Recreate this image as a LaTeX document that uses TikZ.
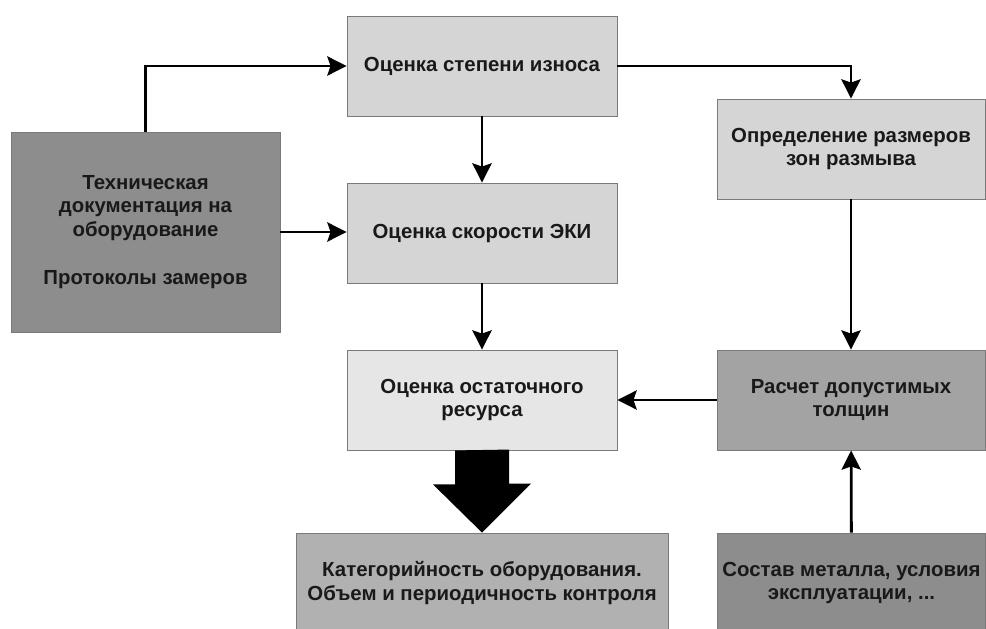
\documentclass[tikz,border=0pt]{standalone}
\usepackage{fontspec}
\setmainfont{Liberation Sans}
\usetikzlibrary{arrows.meta}
\definecolor{boxlight}{HTML}{D5D5D5}
\definecolor{boxpale}{HTML}{E6E6E6}
\definecolor{boxmid}{HTML}{A3A3A3}
\definecolor{boxsoft}{HTML}{B1B1B1}
\definecolor{boxdark}{HTML}{8D8D8D}
\definecolor{boxline}{HTML}{7A7A7A}
\begin{document}
\begin{tikzpicture}
			[x=0.025cm, y=-0.025cm,
			font=\fontsize{14.5}{17}\selectfont\bfseries,
			blok/.style={draw=boxline, line width=0.6pt, align=center, inner sep=0pt,
				text=black!90, minimum width=6.75cm, minimum height=2.5cm},
			strel/.style={line width=2pt, -{Stealth[length=0.48cm, width=0.48cm, inset=0.08cm]}}]
			\useasboundingbox (0,0) rectangle (986,629);
			\node[blok, fill=boxlight] (izn) at (482,66) {Оценка степени износа};
			\node[blok, fill=boxdark, minimum width=6.725cm, minimum height=5cm] (tech) at (145.5,232)
				{Техническая\\документация на\\оборудование\\[17pt]Протоколы замеров};
			\node[blok, fill=boxlight] (eki) at (482,233) {Оценка скорости ЭКИ};
			\node[blok, fill=boxlight, minimum width=6.7cm] (zon) at (851,149) {Определение размеров\\зон размыва};
			\node[blok, fill=boxpale] (res) at (482,400) {Оценка остаточного\\ресурса};
			\node[blok, fill=boxmid, minimum width=6.7cm] (tol) at (851,400) {Расчет допустимых\\толщин};
			\node[blok, fill=boxsoft, minimum width=9.3cm] (kat) at (482,583)
				{Категорийность оборудования.\\Объем и периодичность контроля};
			\node[blok, fill=boxdark, minimum width=6.7cm] (sost) at (851.5,583)
				{Состав металла, условия\\эксплуатации, ...};
			\draw[strel] (tech.north) |- (izn.west);
			\draw[strel] (tech.east) -- (tech.east -| eki.west);
			\draw[strel] (izn) -- (eki);
			\draw[strel] (izn.east) -| (zon.north);
			\draw[strel] (eki) -- (res);
			\draw[strel] (zon) -- (tol);
			\draw[strel] (tol) -- (res);
			\draw[strel] (sost) -- (tol);
			% wide arrow
			\fill[black] (res.south) ++(-27,0) -- ++(0,34) -- ++(-22,0) -- (kat.north)
				-- ++(49,-49) -- ++(-22,0) -- ++(0,-34) -- cycle;
			\end{tikzpicture}
\end{document}
